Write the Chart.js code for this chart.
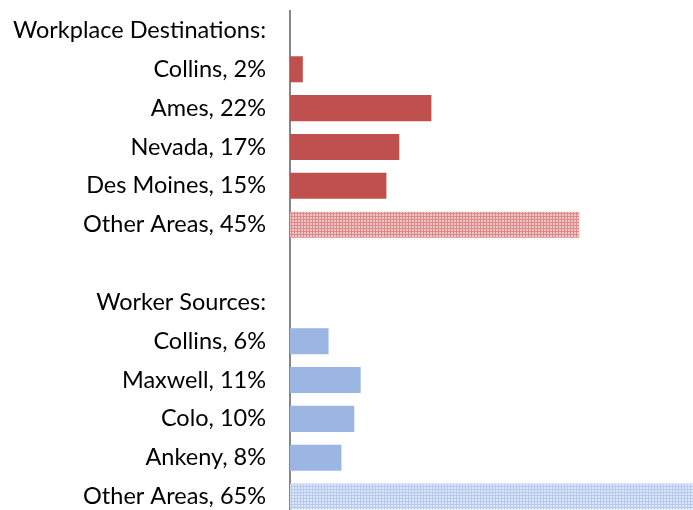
<!DOCTYPE html>
<html>
<head>
<meta charset="utf-8">
<script src="https://cdn.jsdelivr.net/npm/chart.js@4/dist/chart.umd.min.js"></script>
<style>
  html, body { margin: 0; padding: 0; background: #fff; overflow: hidden; }
  #wrap { position: absolute; left: 0; top: 0; }
</style>
</head>
<body>
<div id="wrap"><canvas id="c" width="693" height="516"></canvas></div>
<script>
// Commuting flows: where local workers go, and where local jobs draw workers from
const destinationHeader = "Workplace Destinations:";
const destinationNames = ["Collins", "Ames", "Nevada", "Des Moines", "Other Areas"];
const destinationShares = [2, 22, 17, 15, 45];

const sourceHeader = "Worker Sources:";
const sourceNames = ["Collins", "Maxwell", "Colo", "Ankeny", "Other Areas"];
const sourceShares = [6, 11, 10, 8, 65];

// Small grid fill used for the "Other Areas" bars
function gridFill(line, light) {
  const p = document.createElement("canvas");
  p.width = 3; p.height = 3;
  const g = p.getContext("2d");
  g.fillStyle = light; g.fillRect(0, 0, 3, 3);
  g.fillStyle = line; g.fillRect(0, 0, 3, 1); g.fillRect(0, 0, 1, 3);
  return g.createPattern(p, "repeat");
}

const RED = "#C0504D";
const BLUE = "#9CB6E4";
const redPattern = gridFill("#DC8B89", "#EFC6C5");
const bluePattern = gridFill("#B7CAEE", "#DCE6F8");

const labels = [destinationHeader];
const values = [null];
const fills = [RED];
destinationNames.forEach((n, i) => {
  labels.push(n + ", " + destinationShares[i] + "%");
  values.push(destinationShares[i]);
  fills.push(i === destinationNames.length - 1 ? redPattern : RED);
});
labels.push("", sourceHeader);
values.push(null, null);
fills.push(RED, BLUE);
sourceNames.forEach((n, i) => {
  labels.push(n + ", " + sourceShares[i] + "%");
  values.push(sourceShares[i]);
  fills.push(i === sourceNames.length - 1 ? bluePattern : BLUE);
});

new Chart(document.getElementById("c"), {
  type: "bar",
  data: {
    labels: labels,
    datasets: [{
      data: values,
      backgroundColor: fills,
      borderWidth: 0,
      barPercentage: 0.67,
      categoryPercentage: 1
    }]
  },
  options: {
    indexAxis: "y",
    responsive: false,
    animation: false,
    layout: { padding: { top: 11, right: 0, bottom: 0, left: 0 } },
    plugins: { legend: { display: false }, tooltip: { enabled: false } },
    scales: {
      x: { display: false, min: 0, max: 62.7 },
      y: {
        grid: { display: false, drawTicks: false },
        border: { display: true, color: "#868686", width: 2 },
        afterFit: (s) => { s.width = 290; s.paddingTop = 0; s.paddingBottom = 0; },
        ticks: {
          padding: 24,
          color: "#000",
          font: { family: "Lato", size: 23.5 },
          autoSkip: false
        }
      }
    }
  }
});
</script>
</body>
</html>
